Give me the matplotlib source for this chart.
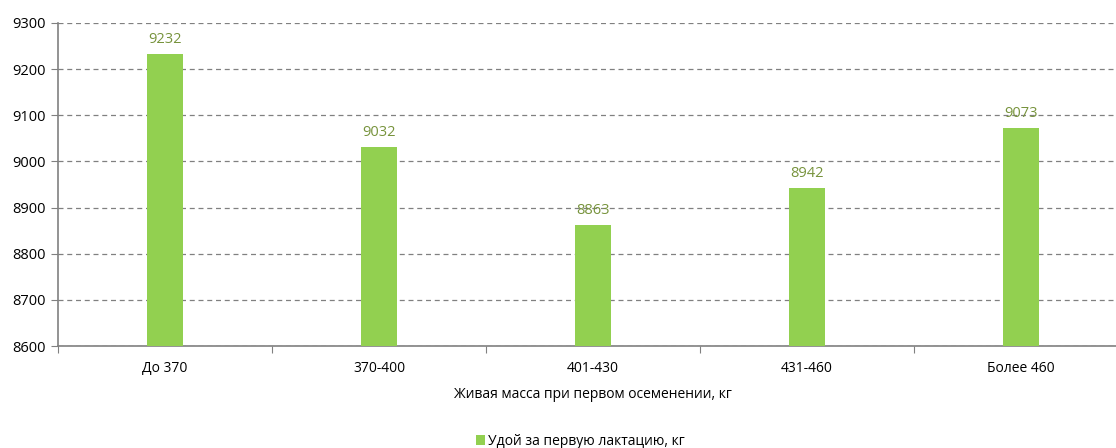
import matplotlib.pyplot as plt
import numpy as np

categories = ["До 370", "370-400", "401-430", "431-460", "Более 460"]
milk_yield = [9232, 9032, 8863, 8942, 9073]
y_ticks = [8600, 8700, 8800, 8900, 9000, 9100, 9200, 9300]

plt.rcParams["font.family"] = ["Open Sans", "DejaVu Sans"]

fig = plt.figure(figsize=(11.16, 4.48), dpi=100)
# plot area is cut off on the right in the original
ax = fig.add_axes([58 / 1116, 102 / 448, 1070 / 1116, 323 / 448])

x = np.arange(len(categories))
bars = ax.bar(x, milk_yield, width=0.168, color="#92D050", zorder=3,
              label="Удой за первую лактацию, кг")

for b, v in zip(bars, milk_yield):
    ax.annotate(str(v), (b.get_x() + b.get_width() / 2, v), xytext=(0, 5),
                textcoords="offset points", ha="center", va="bottom",
                fontsize=10.5, color="#77933C")

ax.set_xlim(-0.5, len(categories) - 0.5)
ax.set_ylim(8600, 9300)
ax.set_yticks(y_ticks)
ax.set_xticks(np.arange(len(categories) + 1) - 0.5, minor=False)
ax.set_xticklabels([""] * (len(categories) + 1))
ax.set_xticks(x, minor=True)
ax.set_xticklabels(categories, minor=True)
ax.tick_params(axis="x", which="minor", length=0, labelsize=10, pad=11)
ax.tick_params(axis="x", which="major", length=5, color="#808080")
ax.tick_params(axis="y", length=5, color="#808080", labelsize=10.5, pad=4)

ax.yaxis.grid(True, linestyle=(0, (4, 3)), color="#808080", linewidth=0.9, zorder=0)
for s in ["top", "right"]:
    ax.spines[s].set_visible(False)
for s in ["left", "bottom"]:
    ax.spines[s].set_color("#808080")
    ax.spines[s].set_linewidth(1.2)

ax.set_xlabel("Живая масса при первом осеменении, кг", fontsize=10, labelpad=8)

fig.legend(loc="lower center", bbox_to_anchor=(0.52, -0.03), frameon=False,
           fontsize=10, handlelength=0.7, handleheight=0.7, handletextpad=0.2)

fig.savefig("out.png", dpi=100)
